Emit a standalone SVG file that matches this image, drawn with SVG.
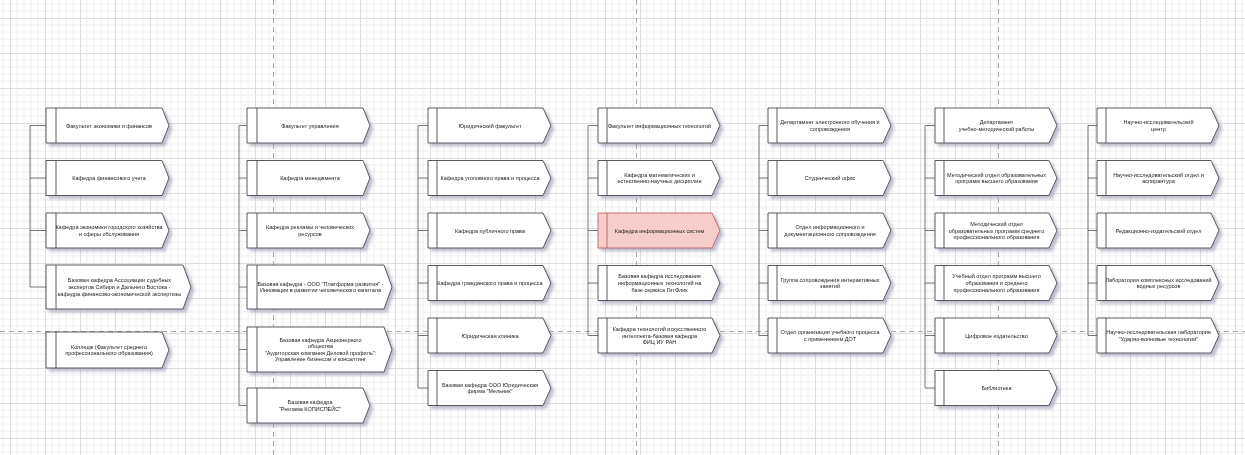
<svg xmlns="http://www.w3.org/2000/svg" width="1245" height="455" viewBox="0 0 1245 455">
<style>
.node path.b{fill:#fff;stroke:#333;stroke-width:0.8}
.node line{stroke:#333;stroke-width:0.8}
.pink path.b{fill:#f8cecc;stroke:#b85450}
.pink line{stroke:#b85450}
.node{filter:url(#sh)}
text{font-family:"Liberation Sans",Arial,sans-serif;font-size:5.5px;fill:#222;text-anchor:middle}
.conn path{fill:none;stroke:#555;stroke-width:0.8}
.pb{stroke:#aaa;stroke-width:1;stroke-dasharray:5 4;fill:none}
</style>
<defs>
<pattern id="grid" width="35" height="35" patternUnits="userSpaceOnUse" x="10" y="18">
<path d="M7,0V35M14,0V35M21,0V35M28,0V35M0,7H35M0,14H35M0,21H35M0,28H35" stroke="#eeeeee" stroke-width="1" fill="none"/>
<path d="M0.5,0V35M0,0.5H35" stroke="#dddddd" stroke-width="1" fill="none"/>
</pattern>
<filter id="sh" x="-10%" y="-20%" width="130%" height="160%">
<feDropShadow dx="3" dy="3" stdDeviation="1.8" flood-color="#8a8aaa" flood-opacity="0.55"/>
</filter>
</defs>
<rect width="1245" height="455" fill="#fff"/>
<rect width="1245" height="455" fill="url(#grid)"/>
<g id="pagebreaks">
<path class="pb" d="M273.5,0V455M636.5,0V455M998.5,0V455M0,331.5H1245"/>
</g>
<g class="conn" id="connectors">
<path d="M30,125.5V287M30,125.5H46M30,178H46M30,230.5H46M30,287H46"/>
<path d="M239,125.5V405.5M239,125.5H247M239,178H247M239,230.5H247M239,287H247M239,349.5H247M239,405.5H247"/>
<path d="M418,125.5V388M418,125.5H428M418,178H428M418,230.5H428M418,283H428M418,335.5H428M418,388H428"/>
<path d="M588,125.5V335.5M588,125.5H598M588,178H598M588,230.5H598M588,283H598M588,335.5H598"/>
<path d="M759,125.5V335.5M759,125.5H768M759,178H768M759,230.5H768M759,283H768M759,335.5H768"/>
<path d="M925,125.5V388M925,125.5H935M925,178H935M925,230.5H935M925,283H935M925,335.5H935M925,388H935"/>
<path d="M1088,125.5V335.5M1088,125.5H1097M1088,178H1097M1088,230.5H1097M1088,283H1097M1088,335.5H1097"/>
</g>

<!-- Column 1 -->
<g id="c1n1" class="node"><path class="b" d="M46,108H162L169,125.5L162,143H46Z"/><line x1="56" y1="108" x2="56" y2="143"/><text x="109" y="127.5">Факультет экономики и финансов</text></g>
<g id="c1n2" class="node"><path class="b" d="M46,160.5H162L169,178L162,195.5H46Z"/><line x1="56" y1="160.5" x2="56" y2="195.5"/><text x="109" y="180">Кафедра финансового учета</text></g>
<g id="c1n3" class="node"><path class="b" d="M46,213H162L169,230.5L162,248H46Z"/><line x1="56" y1="213" x2="56" y2="248"/><text x="109" y="229.2"><tspan x="109">Кафедра экономики городского хозяйства</tspan><tspan x="109" dy="6.6">и сферы обслуживания</tspan></text></g>
<g id="c1n4" class="node"><path class="b" d="M46,265H183L191,287L183,309H46Z"/><line x1="56" y1="265" x2="56" y2="309"/><text x="119.5" y="282.4"><tspan x="119.5">Базовая кафедра Ассоциации судебных</tspan><tspan x="119.5" dy="6.6">экспертов Сибири и Дальнего Востока -</tspan><tspan x="119.5" dy="6.6">кафедра финансово-экономической экспертизы</tspan></text></g>
<g id="c1n5" class="node"><path class="b" d="M46,332H162L169,350L162,368H46Z"/><line x1="56" y1="332" x2="56" y2="368"/><text x="109" y="348.7"><tspan x="109">Колледж (Факультет среднего</tspan><tspan x="109" dy="6.6">профессионального образования)</tspan></text></g>

<!-- Column 2 -->
<g id="c2n1" class="node"><path class="b" d="M247,108H363L370,125.5L363,143H247Z"/><line x1="257" y1="108" x2="257" y2="143"/><text x="310" y="127.5">Факультет управления</text></g>
<g id="c2n2" class="node"><path class="b" d="M247,160.5H363L370,178L363,195.5H247Z"/><line x1="257" y1="160.5" x2="257" y2="195.5"/><text x="310" y="180">Кафедра менеджмента</text></g>
<g id="c2n3" class="node"><path class="b" d="M247,213H363L370,230.5L363,248H247Z"/><line x1="257" y1="213" x2="257" y2="248"/><text x="310" y="229.2"><tspan x="310">Кафедра рекламы и человеческих</tspan><tspan x="310" dy="6.6">ресурсов</tspan></text></g>
<g id="c2n4" class="node"><path class="b" d="M247,265H384L392,287L384,309H247Z"/><line x1="257" y1="265" x2="257" y2="309"/><text x="320.5" y="285.7"><tspan x="320.5">Базовая кафедра - ООО "Платформа развития" -</tspan><tspan x="320.5" dy="6.6">Инновации в развитии человеческого капитала</tspan></text></g>
<g id="c2n5" class="node"><path class="b" d="M247,327H384L392,349.5L384,372H247Z"/><line x1="257" y1="327" x2="257" y2="372"/><text x="320.5" y="341.6"><tspan x="320.5">Базовая кафедра Акционерного</tspan><tspan x="320.5" dy="6.6">общества</tspan><tspan x="320.5" dy="6.6">"Аудиторская компания Деловой профиль":</tspan><tspan x="320.5" dy="6.6">Управление бизнесом и консалтинг</tspan></text></g>
<g id="c2n6" class="node"><path class="b" d="M247,388H363L370,405.5L363,423H247Z"/><line x1="257" y1="388" x2="257" y2="423"/><text x="310" y="404.2"><tspan x="310">Базовая кафедра</tspan><tspan x="310" dy="6.6">"Реклама КОПИСПЕЙС"</tspan></text></g>

<!-- Column 3 -->
<g id="c3n1" class="node"><path class="b" d="M428,108H543L551,125.5L543,143H428Z"/><line x1="437" y1="108" x2="437" y2="143"/><text x="490" y="127.5">Юридический факультет</text></g>
<g id="c3n2" class="node"><path class="b" d="M428,160.5H543L551,178L543,195.5H428Z"/><line x1="437" y1="160.5" x2="437" y2="195.5"/><text x="490" y="180">Кафедра уголовного права и процесса</text></g>
<g id="c3n3" class="node"><path class="b" d="M428,213H543L551,230.5L543,248H428Z"/><line x1="437" y1="213" x2="437" y2="248"/><text x="490" y="232.5">Кафедра публичного права</text></g>
<g id="c3n4" class="node"><path class="b" d="M428,265.5H543L551,283L543,300.5H428Z"/><line x1="437" y1="265.5" x2="437" y2="300.5"/><text x="490" y="285">Кафедра гражданского права и процесса</text></g>
<g id="c3n5" class="node"><path class="b" d="M428,318H543L551,335.5L543,353H428Z"/><line x1="437" y1="318" x2="437" y2="353"/><text x="490" y="337.5">Юридическая клиника</text></g>
<g id="c3n6" class="node"><path class="b" d="M428,370.5H543L551,388L543,405.5H428Z"/><line x1="437" y1="370.5" x2="437" y2="405.5"/><text x="490" y="386.7"><tspan x="490">Базовая кафедра ООО Юридическая</tspan><tspan x="490" dy="6.6">фирма "Мельник"</tspan></text></g>

<!-- Column 4 -->
<g id="c4n1" class="node"><path class="b" d="M598,108H712L720,125.5L712,143H598Z"/><line x1="607" y1="108" x2="607" y2="143"/><text x="659.5" y="127.5">Факультет информационных технологий</text></g>
<g id="c4n2" class="node"><path class="b" d="M598,160.5H712L720,178L712,195.5H598Z"/><line x1="607" y1="160.5" x2="607" y2="195.5"/><text x="659.5" y="176.7"><tspan x="659.5">Кафедра математических и</tspan><tspan x="659.5" dy="6.6">естественно-научных дисциплин</tspan></text></g>
<g id="c4n3" class="node pink"><path class="b" d="M598,213H712L720,230.5L712,248H598Z"/><line x1="607" y1="213" x2="607" y2="248"/><text x="659.5" y="232.5">Кафедра информационных систем</text></g>
<g id="c4n4" class="node"><path class="b" d="M598,265.5H712L720,283L712,300.5H598Z"/><line x1="607" y1="265.5" x2="607" y2="300.5"/><text x="659.5" y="278.4"><tspan x="659.5">Базовая кафедра исследования</tspan><tspan x="659.5" dy="6.6">информационных технологий на</tspan><tspan x="659.5" dy="6.6">базе сервиса ГитФлик</tspan></text></g>
<g id="c4n5" class="node"><path class="b" d="M598,318H712L720,335.5L712,353H598Z"/><line x1="607" y1="318" x2="607" y2="353"/><text x="659.5" y="330.9"><tspan x="659.5">Кафедра технологий искусственного</tspan><tspan x="659.5" dy="6.6">интеллекта-базовая кафедра</tspan><tspan x="659.5" dy="6.6">ФИЦ ИУ РАН</tspan></text></g>

<!-- Column 5 -->
<g id="c5n1" class="node"><path class="b" d="M768,108H883L891,125.5L883,143H768Z"/><line x1="777" y1="108" x2="777" y2="143"/><text x="830" y="124.2"><tspan x="830">Департамент электронного обучения и</tspan><tspan x="830" dy="6.6">сопровождения</tspan></text></g>
<g id="c5n2" class="node"><path class="b" d="M768,160.5H883L891,178L883,195.5H768Z"/><line x1="777" y1="160.5" x2="777" y2="195.5"/><text x="830" y="180">Студенческий офис</text></g>
<g id="c5n3" class="node"><path class="b" d="M768,213H883L891,230.5L883,248H768Z"/><line x1="777" y1="213" x2="777" y2="248"/><text x="830" y="229.2"><tspan x="830">Отдел информационного и</tspan><tspan x="830" dy="6.6">документационного сопровождения</tspan></text></g>
<g id="c5n4" class="node"><path class="b" d="M768,265.5H883L891,283L883,300.5H768Z"/><line x1="777" y1="265.5" x2="777" y2="300.5"/><text x="830" y="281.7"><tspan x="830">Группа сопровождения интерактивных</tspan><tspan x="830" dy="6.6">занятий</tspan></text></g>
<g id="c5n5" class="node"><path class="b" d="M768,318H883L891,335.5L883,353H768Z"/><line x1="777" y1="318" x2="777" y2="353"/><text x="830" y="334.2"><tspan x="830">Отдел организации учебного процесса</tspan><tspan x="830" dy="6.6">с применением ДОТ</tspan></text></g>

<!-- Column 6 -->
<g id="c6n1" class="node"><path class="b" d="M935,108H1049L1057,125.5L1049,143H935Z"/><line x1="944" y1="108" x2="944" y2="143"/><text x="996.5" y="124.2"><tspan x="996.5">Департамент</tspan><tspan x="996.5" dy="6.6">учебно-методической работы</tspan></text></g>
<g id="c6n2" class="node"><path class="b" d="M935,160.5H1049L1057,178L1049,195.5H935Z"/><line x1="944" y1="160.5" x2="944" y2="195.5"/><text x="996.5" y="176.7"><tspan x="996.5">Методический отдел образовательных</tspan><tspan x="996.5" dy="6.6">программ высшего образования</tspan></text></g>
<g id="c6n3" class="node"><path class="b" d="M935,213H1049L1057,230.5L1049,248H935Z"/><line x1="944" y1="213" x2="944" y2="248"/><text x="996.5" y="225.9"><tspan x="996.5">Методический отдел</tspan><tspan x="996.5" dy="6.6">образовательных программ среднего</tspan><tspan x="996.5" dy="6.6">профессионального образования</tspan></text></g>
<g id="c6n4" class="node"><path class="b" d="M935,265.5H1049L1057,283L1049,300.5H935Z"/><line x1="944" y1="265.5" x2="944" y2="300.5"/><text x="996.5" y="278.4"><tspan x="996.5">Учебный отдел программ высшего</tspan><tspan x="996.5" dy="6.6">образования и среднего</tspan><tspan x="996.5" dy="6.6">профессионального образования</tspan></text></g>
<g id="c6n5" class="node"><path class="b" d="M935,318H1049L1057,335.5L1049,353H935Z"/><line x1="944" y1="318" x2="944" y2="353"/><text x="996.5" y="337.5">Цифровое издательство</text></g>
<g id="c6n6" class="node"><path class="b" d="M935,370.5H1049L1057,388L1049,405.5H935Z"/><line x1="944" y1="370.5" x2="944" y2="405.5"/><text x="996.5" y="390">Библиотека</text></g>

<!-- Column 7 -->
<g id="c7n1" class="node"><path class="b" d="M1097,108H1211L1219,125.5L1211,143H1097Z"/><line x1="1106" y1="108" x2="1106" y2="143"/><text x="1158.5" y="124.2"><tspan x="1158.5">Научно-исследовательский</tspan><tspan x="1158.5" dy="6.6">центр</tspan></text></g>
<g id="c7n2" class="node"><path class="b" d="M1097,160.5H1211L1219,178L1211,195.5H1097Z"/><line x1="1106" y1="160.5" x2="1106" y2="195.5"/><text x="1158.5" y="176.7"><tspan x="1158.5">Научно-исследовательский отдел и</tspan><tspan x="1158.5" dy="6.6">аспирантура</tspan></text></g>
<g id="c7n3" class="node"><path class="b" d="M1097,213H1211L1219,230.5L1211,248H1097Z"/><line x1="1106" y1="213" x2="1106" y2="248"/><text x="1158.5" y="232.5">Редакционно-издательский отдел</text></g>
<g id="c7n4" class="node"><path class="b" d="M1097,265.5H1211L1219,283L1211,300.5H1097Z"/><line x1="1106" y1="265.5" x2="1106" y2="300.5"/><text x="1158.5" y="281.7"><tspan x="1158.5">Лаборатория комплексных исследований</tspan><tspan x="1158.5" dy="6.6">водных ресурсов</tspan></text></g>
<g id="c7n5" class="node"><path class="b" d="M1097,318H1211L1219,335.5L1211,353H1097Z"/><line x1="1106" y1="318" x2="1106" y2="353"/><text x="1158.5" y="334.2"><tspan x="1158.5">Научно-исследовательская лаборатория</tspan><tspan x="1158.5" dy="6.6">"Ударно-волновые технологии"</tspan></text></g>
</svg>
